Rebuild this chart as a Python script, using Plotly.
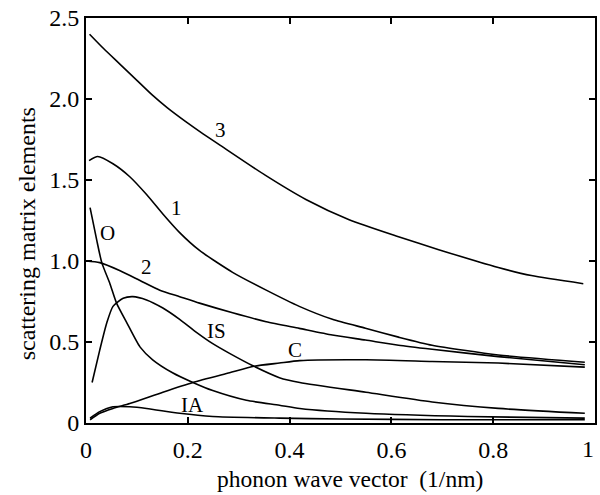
import plotly.graph_objects as go

# ---- data ----
x3 = [0.007, 0.035, 0.065, 0.1, 0.13, 0.16, 0.196, 0.23, 0.261, 0.352, 0.432, 0.517, 0.614, 0.693, 0.81, 0.875, 0.977]
y3 = [2.40, 2.31, 2.22, 2.115, 2.025, 1.945, 1.86, 1.785, 1.72, 1.53, 1.38, 1.255, 1.15, 1.07, 0.96, 0.91, 0.86]

x1 = [0.006, 0.023, 0.053, 0.086, 0.119, 0.151, 0.184, 0.223, 0.288, 0.354, 0.419, 0.484, 0.549, 0.614, 0.68, 0.81, 0.98]
y1 = [1.62, 1.645, 1.60, 1.52, 1.41, 1.29, 1.175, 1.065, 0.93, 0.82, 0.72, 0.64, 0.585, 0.53, 0.48, 0.42, 0.375]

x2 = [0.0, 0.027, 0.067, 0.106, 0.145, 0.184, 0.223, 0.288, 0.354, 0.419, 0.484, 0.549, 0.614, 0.68, 0.81, 0.98]
y2 = [1.0, 0.99, 0.94, 0.88, 0.82, 0.78, 0.74, 0.68, 0.625, 0.584, 0.543, 0.512, 0.48, 0.455, 0.41, 0.36]

xIS = [0.012, 0.027, 0.041, 0.053, 0.073, 0.092, 0.119, 0.151, 0.184, 0.217, 0.249, 0.282, 0.33, 0.38, 0.42, 0.55, 0.68, 0.81, 0.98]
yIS = [0.25, 0.45, 0.62, 0.72, 0.77, 0.78, 0.76, 0.71, 0.64, 0.56, 0.49, 0.43, 0.35, 0.28, 0.25, 0.19, 0.13, 0.09, 0.06]

xO = [0.008, 0.021, 0.031, 0.047, 0.06, 0.08, 0.106, 0.131, 0.17, 0.21, 0.249, 0.315, 0.38, 0.42, 0.55, 0.75, 0.98]
yO = [1.33, 1.13, 0.99, 0.86, 0.74, 0.62, 0.47, 0.39, 0.31, 0.25, 0.20, 0.14, 0.11, 0.09, 0.06, 0.04, 0.03]

xC = [0.008, 0.027, 0.053, 0.086, 0.151, 0.21, 0.282, 0.33, 0.38, 0.42, 0.55, 0.68, 0.81, 0.98]
yC = [0.02, 0.06, 0.09, 0.12, 0.19, 0.25, 0.31, 0.35, 0.37, 0.385, 0.39, 0.38, 0.37, 0.345]

xIA = [0.008, 0.027, 0.053, 0.086, 0.119, 0.184, 0.249, 0.38, 0.5, 0.7, 0.98]
yIA = [0.03, 0.07, 0.10, 0.10, 0.09, 0.06, 0.04, 0.03, 0.025, 0.02, 0.02]

curve_labels = ["3", "1", "O", "2", "IS", "C", "IA"]
label_x = [0.264, 0.178, 0.043, 0.119, 0.256, 0.41, 0.21]
label_y = [1.81, 1.33, 1.17, 0.96, 0.57, 0.45, 0.11]

x_tickvals = [0, 0.2, 0.4, 0.6, 0.8, 1]
x_ticktext = ["0", "0.2", "0.4", "0.6", "0.8", "1"]
y_tickvals = [0, 0.5, 1.0, 1.5, 2.0, 2.5]
y_ticktext = ["0", "0.5", "1.0", "1.5", "2.0", "2.5"]

x_title = "phonon wave vector&nbsp;&nbsp;(1/nm)"
y_title = "scattering matrix elements"

FONT = "Liberation Serif, Times New Roman, serif"

fig = go.Figure()
for xs, ys in [(x3, y3), (x1, y1), (x2, y2), (xIS, yIS), (xO, yO), (xC, yC), (xIA, yIA)]:
    fig.add_trace(go.Scatter(x=xs, y=ys, mode="lines",
                             line=dict(color="black", width=1.6, shape="spline", smoothing=0.6),
                             showlegend=False, hoverinfo="skip"))

for t, lx, ly in zip(curve_labels, label_x, label_y):
    fig.add_annotation(x=lx, y=ly, text=t, showarrow=False,
                       font=dict(family=FONT, size=21, color="black"))

# the last x tick label sits at the right edge of the figure; draw it right-aligned
fig.add_annotation(x=x_tickvals[-1], y=0, text=x_ticktext[-1], showarrow=False,
                   xanchor="right", yanchor="top", yshift=-11, xshift=1,
                   font=dict(family=FONT, size=24, color="black"))

# axis titles placed as paper-referenced text
fig.add_annotation(xref="paper", yref="paper", x=0.519, y=-0.138, text=x_title,
                   showarrow=False, xanchor="center", yanchor="middle",
                   font=dict(family=FONT, size=23.5, color="black"))
fig.add_annotation(xref="paper", yref="paper", x=-0.117, y=0.467, text=y_title,
                   showarrow=False, xanchor="center", yanchor="middle", textangle=-90,
                   font=dict(family=FONT, size=24, color="black"))

axis_common = dict(showline=True, linecolor="black", linewidth=2, mirror="ticks",
                   ticks="inside", ticklen=6, tickwidth=1.5, tickcolor="black",
                   showgrid=False, zeroline=False,
                   tickfont=dict(family=FONT, size=24, color="black"))

fig.update_xaxes(range=[0, 1], tickvals=x_tickvals,
                 ticktext=x_ticktext[:-1] + [""],
                 ticklabelstandoff=4, **axis_common)
fig.update_yaxes(range=[0, 2.5], tickvals=y_tickvals, ticktext=y_ticktext,
                 **axis_common)

fig.update_layout(width=600, height=495,
                  margin=dict(l=86, r=3, t=18, b=72),
                  paper_bgcolor="white", plot_bgcolor="white")

fig.write_html("out.html")
